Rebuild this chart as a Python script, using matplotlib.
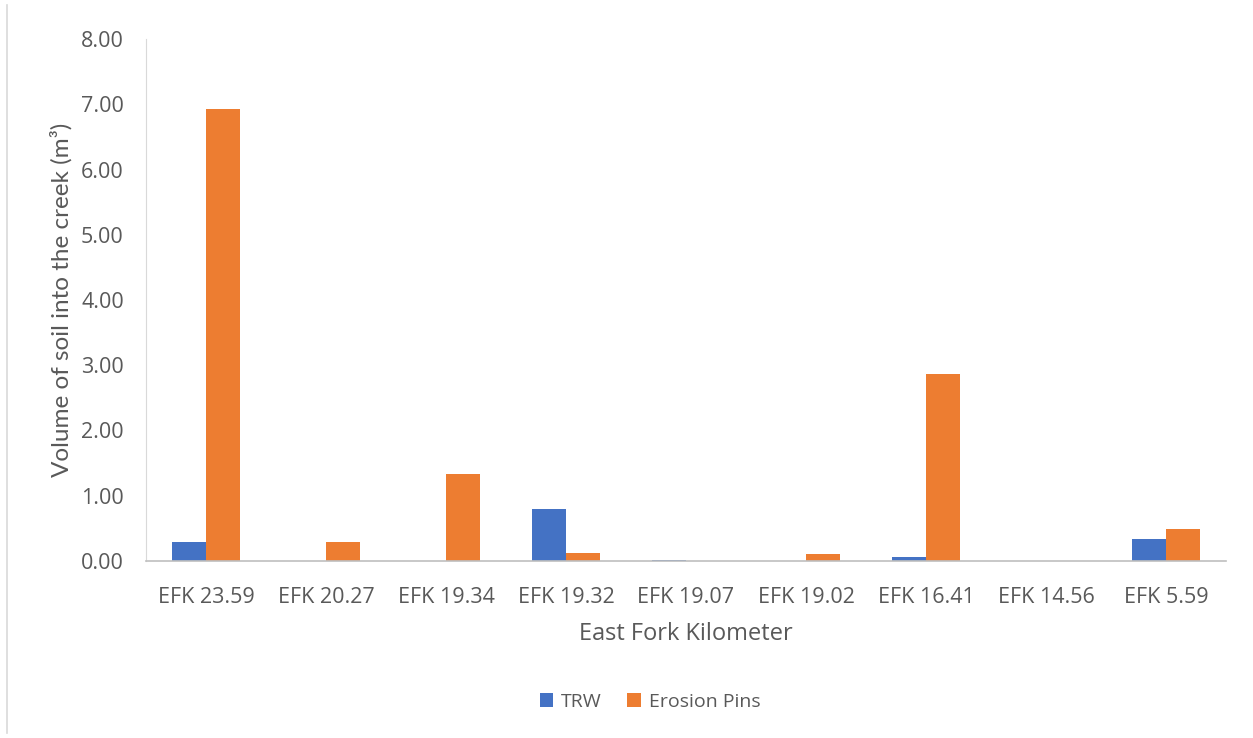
import matplotlib.pyplot as plt
import numpy as np
from matplotlib.lines import Line2D

sites = ["EFK 23.59", "EFK 20.27", "EFK 19.34", "EFK 19.32", "EFK 19.07",
         "EFK 19.02", "EFK 16.41", "EFK 14.56", "EFK 5.59"]
trw = [0.29, 0.0, 0.0, 0.79, 0.02, 0.0, 0.06, 0.0, 0.33]
erosion_pins = [6.92, 0.29, 1.34, 0.12, 0.0, 0.11, 2.87, 0.0, 0.49]
yticks = [0, 1, 2, 3, 4, 5, 6, 7, 8]

grey = "#595959"
plt.rcParams['font.family'] = ['Open Sans', 'DejaVu Sans']

fig = plt.figure(figsize=(12.53, 7.38), dpi=100)
ax = fig.add_axes([146/1253, 1 - 561/738, (1226 - 146)/1253, (561 - 39)/738])

x = np.arange(len(sites))
w = 0.283
ax.bar(x - w/2, trw, w, color="#4472C4", label="TRW")
ax.bar(x + w/2, erosion_pins, w, color="#ED7D31", label="Erosion Pins")

ax.set_xlim(-0.5, len(sites) - 0.5)
ax.set_ylim(0, 8)
ax.set_yticks(yticks)
ax.set_yticklabels(["%.2f" % v for v in yticks])
ax.set_xticks(x)
ax.set_xticklabels(sites)
ax.tick_params(axis='both', length=0, labelsize=15.5, colors=grey)
ax.tick_params(axis='x', pad=19)
ax.tick_params(axis='y', pad=16)

for s in ['top', 'right']:
    ax.spines[s].set_visible(False)
ax.spines['left'].set_color("#d9d9d9")
ax.spines['bottom'].set_color("#bfbfbf")
ax.spines['bottom'].set_linewidth(1.2)

ax.set_xlabel("East Fork Kilometer", fontsize=17, color=grey, labelpad=10)
ax.set_ylabel("Volume of soil into the creek (m³)", fontsize=17.5, color=grey,
              family=['Lato', 'DejaVu Sans'], labelpad=6)

fig.legend(loc='center', bbox_to_anchor=(650/1253, 1 - 702/738), ncol=2,
           frameon=False, fontsize=14, handlelength=0.7, handleheight=0.7,
           columnspacing=1.3, handletextpad=0.4, labelcolor=grey)

# chart area border on the left
fig.add_artist(Line2D([7/1253, 7/1253], [5/738, 1 - 5/738], color="#d9d9d9", lw=1.2))

fig.savefig("out.png", dpi=100)
